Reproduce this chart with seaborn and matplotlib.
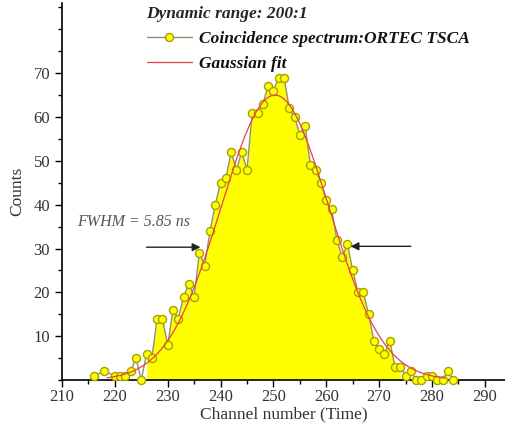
import numpy as np
import pandas as pd
import matplotlib
matplotlib.use("Agg")
import matplotlib.pyplot as plt
import seaborn as sns
from matplotlib.ticker import MultipleLocator

# ---- data ----
channels = [216, 218, 220, 221, 222, 223, 224, 225, 226, 227, 228, 229, 230,
            231, 232, 233, 234, 235, 236, 237, 238, 239, 240, 241, 242, 243,
            244, 245, 246, 247, 248, 249, 250, 251, 252, 253, 254, 255, 256,
            257, 258, 259, 260, 261, 262, 263, 264, 265, 266, 267, 268, 269,
            270, 271, 272, 273, 274, 275, 276, 277, 278, 279, 280, 281, 282,
            283, 284]
counts = [1, 2, 1, 1, 1, 2, 5, 0, 6, 5, 14, 14, 8,
          16, 14, 19, 22, 19, 29, 26, 34, 40, 45, 46, 52, 48,
          52, 48, 61, 61, 63, 67, 66, 69, 69, 62, 60, 56, 58,
          49, 48, 45, 41, 39, 32, 28, 31, 25, 20, 20, 15, 9,
          7, 6, 9, 3, 3, 1, 2, 0, 0, 1, 1, 0, 0,
          2, 0]
fill_range = [226, 274]

# Gaussian fit parameters
fit_amp = 65.0
fit_center = 250.3
fit_sigma = 10.2
fit_range = [218.5, 282.5]

x_ticks = [210, 220, 230, 240, 250, 260, 270, 280, 290]
y_ticks = [10, 20, 30, 40, 50, 60, 70]

legend_title = "Dynamic range: 200:1"
label_data = "Coincidence spectrum:ORTEC TSCA"
label_fit = "Gaussian fit"
fwhm_text = "FWHM = 5.85 ns"
left_arrow = [(226.0, 30.3), (236.2, 30.3)]
right_arrow = [(276.0, 30.5), (264.6, 30.5)]
fwhm_pos = (212.8, 36.0)

# ---- plotting ----
sns.set_style("ticks")
plt.rcParams["font.family"] = ["Liberation Serif", "DejaVu Serif"]

fig = plt.figure(figsize=(5.06, 4.34), dpi=100)
ax = fig.add_axes([0.1225, 0.1244, 0.8775, 0.8686])

df = pd.DataFrame({"channel": channels, "counts": counts})

# yellow fill under the data between fill_range
sub = df[(df.channel >= fill_range[0]) & (df.channel <= fill_range[1])]
ax.fill_between(sub.channel, 0, sub.counts, color="#ffff00", linewidth=0, zorder=1)

# Gaussian fit
xf = np.linspace(fit_range[0], fit_range[1], 400)
yf = fit_amp * np.exp(-0.5 * ((xf - fit_center) / fit_sigma) ** 2)
fit_df = pd.DataFrame({"channel": xf, "counts": yf})

sns.lineplot(data=df, x="channel", y="counts", ax=ax, color="#8f9070",
             linewidth=1.0, marker="o", markersize=5.8,
             markerfacecolor="#ffff00", markeredgecolor="#a6a000",
             markeredgewidth=1.0, label=label_data, zorder=3, sort=True,
             clip_on=False)
sns.lineplot(data=fit_df, x="channel", y="counts", ax=ax, color="#e8404f",
             linewidth=0.9, label=label_fit, zorder=4)

ax.set_xlim(210, 294)
ax.set_ylim(0, 86)
ax.set_xticks(x_ticks)
ax.set_yticks(y_ticks)
ax.xaxis.set_minor_locator(MultipleLocator(5))
ax.yaxis.set_minor_locator(MultipleLocator(5))
ax.tick_params(axis="both", which="major", direction="out", length=5, width=1,
               labelsize=12, labelcolor="#333333", color="black")
ax.tick_params(axis="x", which="major", pad=1.5)
ax.tick_params(axis="both", which="minor", direction="out", length=3, width=1,
               color="black")
for s in ["top", "right"]:
    ax.spines[s].set_visible(False)
for s in ["left", "bottom"]:
    ax.spines[s].set_linewidth(1.2)
    ax.spines[s].set_color("black")

ax.set_xlabel("Channel number (Time)", fontsize=12.5, color="#333333", labelpad=1)
ax.set_ylabel("Counts", fontsize=12.5, color="#333333", labelpad=6)

leg = ax.legend(loc="upper left", bbox_to_anchor=(0.167, 1.02), frameon=False,
                title=legend_title, alignment="left", handlelength=2.6,
                handletextpad=0.4, labelspacing=0.5, borderpad=0.1,
                prop={"size": 12.5, "weight": "bold", "style": "italic"},
                title_fontproperties={"size": 12.5, "weight": "bold", "style": "italic"})
for t in leg.get_texts():
    t.set_color("#111111")

ax.text(fwhm_pos[0], fwhm_pos[1], fwhm_text, fontsize=11.5, style="italic",
        color="#555555", va="center", ha="left")
arrowprops = dict(arrowstyle="-|>", color="#222222", lw=1.0,
                  mutation_scale=12, shrinkA=0, shrinkB=0)
ax.annotate("", xy=left_arrow[1], xytext=left_arrow[0], arrowprops=arrowprops)
ax.annotate("", xy=right_arrow[1], xytext=right_arrow[0], arrowprops=arrowprops)

fig.savefig("out.png", dpi=100)
